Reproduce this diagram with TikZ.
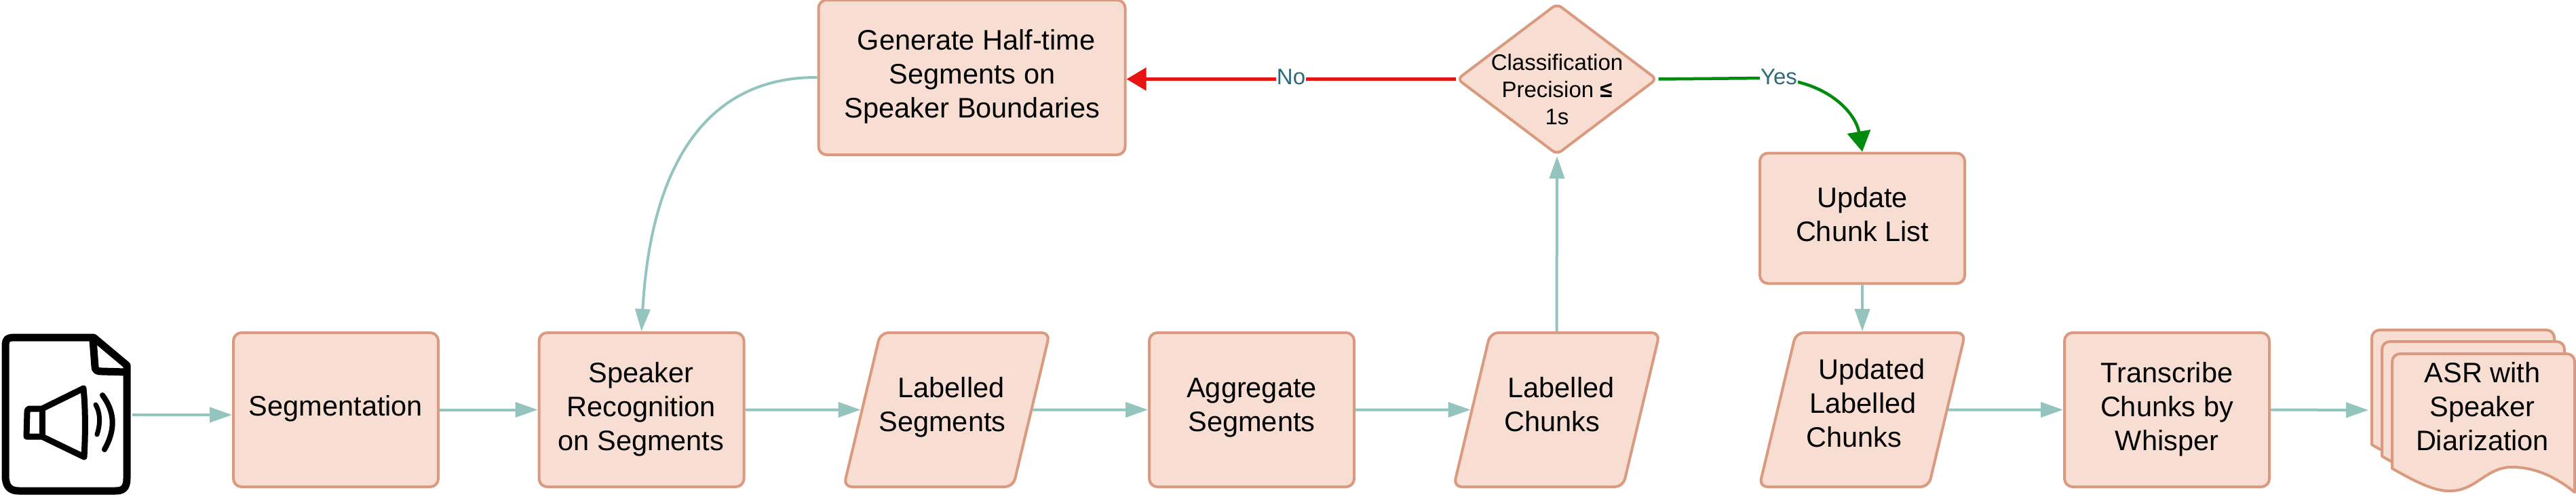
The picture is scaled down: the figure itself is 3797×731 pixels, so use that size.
\documentclass[tikz,border=0pt]{standalone}
\usepackage{fontspec}
\setmainfont{Liberation Sans}
\usetikzlibrary{shapes.geometric,arrows.meta}
\definecolor{boxfill}{HTML}{F8DDD2}
\definecolor{boxline}{HTML}{DA9A80}
\definecolor{conn}{HTML}{93C4BD}
\definecolor{redc}{HTML}{E81313}
\definecolor{greenc}{HTML}{008A0E}
\definecolor{lblc}{HTML}{2F6B7A}
\tikzset{
  flowbox/.style={rectangle,draw=boxline,fill=boxfill,line width=4pt,rounded corners=12pt,inner sep=0pt,minimum width=302pt,minimum height=227pt},
  databox/.style={trapezium,trapezium left angle=75,trapezium right angle=105,trapezium stretches=true,draw=boxline,fill=boxfill,line width=4pt,rounded corners=12pt,inner sep=2pt,minimum width=304pt,minimum height=227pt},
  decisionbox/.style={diamond,draw=boxline,fill=boxfill,line width=4pt,rounded corners=8pt,inner sep=0pt,minimum width=295pt,minimum height=223pt},
  sheet/.style={draw=boxline,fill=boxfill,line width=4pt,line join=round},
  txt/.style={align=center,anchor=base,inner sep=0pt,font=\fontsize{41.5pt}{50pt}\selectfont,text=black},
  smalltxt/.style={align=center,anchor=base,inner sep=0pt,font=\fontsize{33pt}{40pt}\selectfont,text=black},
  lbl/.style={fill=white,inner sep=1pt,text=lblc,font=\fontsize{33pt}{38pt}\selectfont},
  link/.style={draw=conn,line width=4pt,-{Triangle[length=33pt,width=22pt]}},
  nolink/.style={draw=redc,line width=5pt,-{Triangle[length=29pt,width=33pt]}},
  yeslink/.style={draw=greenc,line width=4.5pt,-{Triangle[length=30pt,width=34pt]}},
  icon/.style={draw=black,line cap=round,line join=round},
}
\newcommand{\asrsheet}[2]{%
  \path[sheet,shift={(#1,#2)}] (3526,690) -- (3526,533) .. controls (3526,526) and (3531,521) .. (3538,521) -- (3783,521) .. controls (3790,521) and (3795,526) .. (3795,533) -- (3795,725)
    .. controls (3770,705) and (3740,688) .. (3702,688)
    .. controls (3665,688) and (3650,722) .. (3613,723)
    .. controls (3590,724) and (3565,712) .. (3526,690) -- cycle;}
\begin{document}
\begin{tikzpicture}[x=1pt,y=-1pt]
\useasboundingbox (0,0) rectangle (3797,731);
% audio icon
\node[rectangle,inner sep=0pt,outer sep=0pt,minimum width=195pt,minimum height=238pt] (audio) at (97.5,611) {};
\draw[icon,line width=11pt] (8,510) .. controls (8,498) and (12,497) .. (24,497) -- (138,497) -- (187,538) -- (187,705) .. controls (187,720) and (180,723) .. (170,723) -- (28,723) .. controls (14,723) and (8,716) .. (8,700) -- cycle;
\draw[icon,line width=11pt] (137,500) -- (140,540) .. controls (140,546) and (144,547) .. (150,547) -- (185,548);
\draw[icon,line width=9pt] (62,602) -- (43,602) .. controls (41,602) and (40,604) .. (40,608) -- (39,643) -- (62,643) -- (124,673) .. controls (126,640) and (126,600) .. (123,572) -- cycle;
\draw[icon,line width=9pt] (62,602) -- (62,643);
\draw[icon,line width=7pt] (141,596) .. controls (147,606) and (149,622) .. (143,640);
\draw[icon,line width=8pt] (151,582) .. controls (168,605) and (172,630) .. (154,662);
% boxes
\node[flowbox] (seg) at (495,603.5) {};
\node[flowbox] (spk) at (945.5,603.5) {};
\node[databox] (lseg) at (1395.5,603.5) {\phantom{x}};
\node[flowbox] (agg) at (1845,603.5) {};
\node[databox] (lchk) at (2294.5,603.5) {\phantom{x}};
\node[databox] (uchk) at (2745,603.5) {\phantom{x}};
\node[flowbox] (trn) at (3194,603.5) {};
\node[flowbox,minimum width=452pt,minimum height=228pt] (gen) at (1432.5,114) {};
\node[flowbox,minimum width=302pt,minimum height=192pt] (upd) at (2745,321.5) {};
\node[decisionbox] (dec) at (2295,116.5) {};
\coordinate (asr) at (3491,604);
\asrsheet{-30}{-35}
\asrsheet{-15}{-18}
\asrsheet{0}{0}
% texts
\node[txt] (segT) at (495,612) {Segmentation};
\node[txt] (spkT) at (945,663) {Speaker\\Recognition\\on Segments};
\node[txt] (lsegT) at (1395.5,635) {\hspace*{13pt}Labelled\\Segments\hspace*{13pt}};
\node[txt] (aggT) at (1845,635) {Aggregate\\Segments};
\node[txt] (lchkT) at (2294.5,635) {\hspace*{13pt}Labelled\\Chunks\hspace*{13pt}};
\node[txt] (uchkT) at (2746,658) {\hspace*{26pt}Updated\\Labelled\\Chunks\hspace*{26pt}};
\node[txt] (trnT) at (3194,663) {Transcribe\\Chunks by\\Whisper};
\node[txt] (genT) at (1433,173) {\hspace*{12pt}Generate Half-time\\Segments on\\Speaker Boundaries};
\node[txt] (updT) at (2745,355) {Update\\Chunk List};
\node[smalltxt] (decT) at (2295,183) {Classification\\Precision {\bfseries ≤}\\1s};
\node[txt] (asrT) at (3659,663) {ASR with\\Speaker\\Diarization};
% connectors
\draw[link] (audio.east) -- (seg.west |- audio.east);
\draw[link] (seg.east) -- (spk.west);
\draw[link] (spk.east) -- (lseg.west);
\draw[link] (lseg.east) -- (agg.west);
\draw[link] (agg.east) -- (lchk.west);
\draw[link] (lchk.north) -- (dec.south);
\draw[link] (upd.south) -- (uchk.north);
\draw[link] (uchk.east) -- (trn.west);
\draw[link] (trn.east) -- (asr);
\draw[link] (gen.west) .. controls (1050,113) and (960,230) .. (spk.north);
\draw[nolink] (dec.west) -- node[lbl,pos=.5,yshift=3pt] (noL) {No} (dec.west -| gen.east);
\coordinate (yesP) at (2600,115);
\draw[yeslink] (dec.east) -- (yesP) .. controls (2690,115) and (2735,165) .. (upd.north);
\node[lbl] (yesL) at (2622,113) {Yes};
\end{tikzpicture}
\end{document}
